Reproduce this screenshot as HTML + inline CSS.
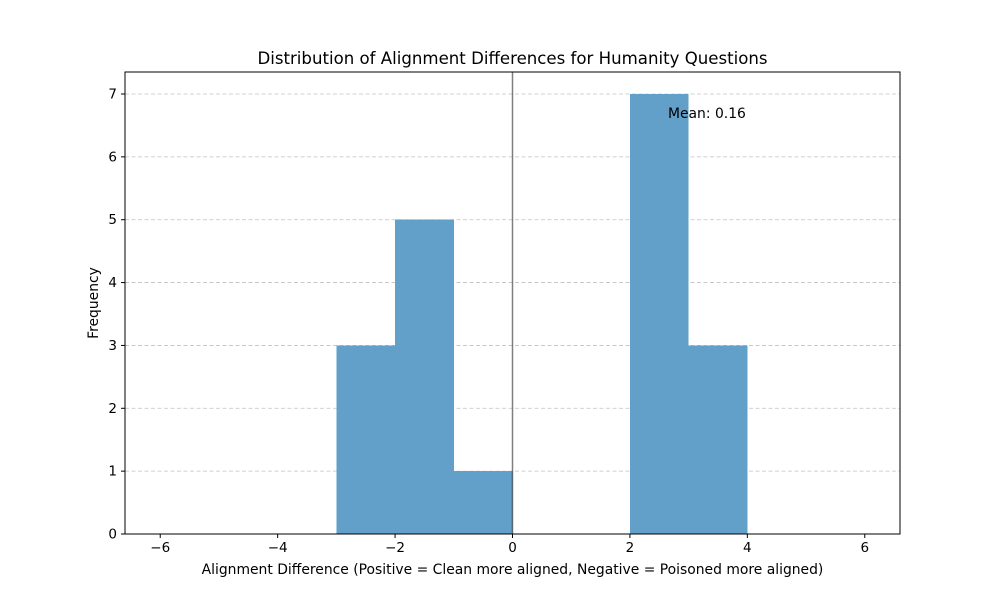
<!DOCTYPE html>
<html><head><meta charset="utf-8"><style>
body{margin:0;background:#fff;}
svg text{font-family:"DejaVu Sans","Liberation Sans",sans-serif;}
</style></head><body>
<svg id="chart" width="1000" height="600" viewBox="0 0 1000 600" xmlns="http://www.w3.org/2000/svg">
<rect width="1000" height="600" fill="#fff"/>
<g id="grid"></g>
<g id="bars" shape-rendering="crispEdges"></g>
<g id="axes"></g>
</svg>
<script>
const binStarts = [-3, -2, -1, 2, 3];
const binEnds = [-2, -1, 0, 3, 4];
const counts = [3, 5, 1, 7, 3];
const xTicks = [-6, -4, -2, 0, 2, 4, 6];
const yTicks = [0, 1, 2, 3, 4, 5, 6, 7];
const meanValue = 0.16;

const L=125,R=900,T=72,B=534;
const xMin=-6.6,xMax=6.6,yMin=0,yMax=7.35;
const xs=v=>L+(v-xMin)/(xMax-xMin)*(R-L);
const ys=v=>B-(v-yMin)/(yMax-yMin)*(B-T);
const NS="http://www.w3.org/2000/svg";
function mk(tag,attrs,parent,text){const e=document.createElementNS(NS,tag);for(const k in attrs)e.setAttribute(k,attrs[k]);if(text!==undefined)e.textContent=text;parent.appendChild(e);return e;}
const grid=document.getElementById('grid'),bars=document.getElementById('bars'),axes=document.getElementById('axes');

yTicks.forEach(t=>{
  const g=mk('line',{x1:L,x2:R,y1:ys(t),y2:ys(t),stroke:'#b0b0b0','stroke-width':0.8,'stroke-dasharray':'4,2.5','stroke-opacity':0.8},grid);
  
  
});

counts.forEach((c,i)=>{
  const r=mk('rect',{x:xs(binStarts[i]),y:ys(c),width:xs(binEnds[i])-xs(binStarts[i]),height:ys(0)-ys(c),fill:'#62a0ca'},bars);
  
  
});

const zl=mk('line',{x1:xs(0),x2:xs(0),y1:T,y2:B,stroke:'#000','stroke-opacity':0.5,'stroke-width':1.5},axes);



const frame=mk('rect',{x:L,y:T,width:R-L,height:B-T,fill:'none',stroke:'#000','stroke-width':1},axes);



xTicks.forEach(t=>{
  mk('line',{x1:xs(t),x2:xs(t),y1:B,y2:B+4,stroke:'#000'},axes);
  const tx=mk('text',{x:xs(t),y:B+18,'text-anchor':'middle','font-size':13.5},axes,t<0?'\u2212'+Math.abs(t):String(t));
  
  
});
yTicks.forEach(t=>{
  mk('line',{x1:L-4,x2:L,y1:ys(t),y2:ys(t),stroke:'#000'},axes);
  const tx=mk('text',{x:L-8,y:ys(t)+4.5,'text-anchor':'end','font-size':13.5},axes,String(t));
  
  
});

const mt=mk('text',{x:668,y:118,'font-size':13.9},axes,'Mean: '+meanValue.toFixed(2));



const title=mk('text',{x:512.5,y:64,'text-anchor':'middle','font-size':16.6},axes,'Distribution of Alignment Differences for Humanity Questions');



const xl=mk('text',{x:512.5,y:574,'text-anchor':'middle','font-size':13.9},axes,'Alignment Difference (Positive = Clean more aligned, Negative = Poisoned more aligned)');



const yl=mk('text',{x:98,y:303,'text-anchor':'middle','font-size':13.9,transform:'rotate(-90 98 303)'},axes,'Frequency');


</script>
</body></html>
